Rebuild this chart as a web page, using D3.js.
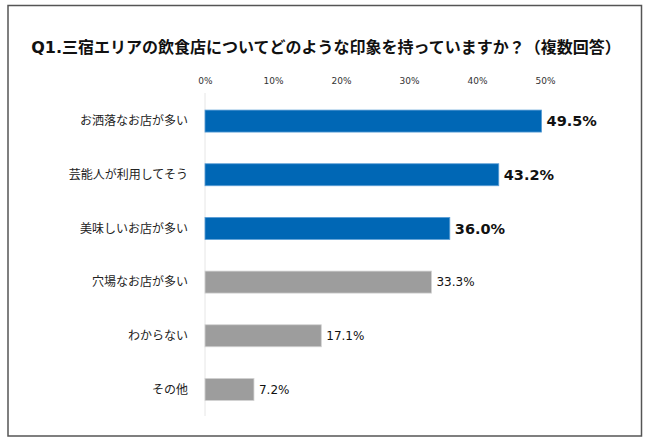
<!DOCTYPE html>
<html><head><meta charset="utf-8">
<script src="https://cdn.jsdelivr.net/npm/d3@7"></script>
<style>
html,body{margin:0;padding:0;background:#fff;}
svg{display:block;font-family:"DejaVu Sans","Noto Sans CJK JP",sans-serif;}
</style></head><body>
<svg id="c" width="650" height="443"></svg>
<script>
const title = "Q1.三宿エリアの飲食店についてどのような印象を持っていますか？（複数回答）";
const categories = ["お洒落なお店が多い","芸能人が利用してそう","美味しいお店が多い","穴場なお店が多い","わからない","その他"];
const values = [49.5, 43.2, 36.0, 33.3, 17.1, 7.2];
const highlighted = [true, true, true, false, false, false];
const tickValues = [0, 10, 20, 30, 40, 50];

const svg = d3.select("#c");
svg.append("rect").attr("x",8).attr("y",5.5).attr("width",633.5).attr("height",430.5)
  .attr("fill","#fff").attr("stroke","#555").attr("stroke-width",1.5);

svg.append("text").attr("x",326).attr("y",53).attr("text-anchor","middle")
  .attr("font-size",16).attr("font-weight","bold").attr("fill","#111").text(title);

const x = d3.scaleLinear().domain([0,50]).range([205,545]);
const y = d3.scaleBand().domain(categories).range([94.5,416]).paddingInner(0.59).paddingOuter(0.29);

const ax = svg.append("g").attr("transform","translate(0,84)")
  .call(d3.axisTop(x).tickValues(tickValues).tickFormat(d=>d+"%").tickSize(0).tickPadding(0));
ax.select(".domain").remove();
ax.selectAll("text").attr("font-size",9).attr("fill","#333").attr("font-family","\"DejaVu Sans\",\"Noto Sans CJK JP\",sans-serif");

svg.append("line").attr("x1",205).attr("x2",205).attr("y1",93).attr("y2",416)
  .attr("stroke","#e6e6e6").attr("stroke-width",1);

svg.selectAll("rect.bar").data(categories).join("rect").attr("class","bar")
  .attr("x",x(0)).attr("y",d=>y(d)).attr("height",y.bandwidth())
  .attr("width",(d,i)=>x(values[i])-x(0))
  .attr("fill",(d,i)=>highlighted[i]?"#0067b5":"#9d9d9d")
  .attr("stroke",(d,i)=>highlighted[i]?"#5d9fd6":"#d2d2d2").attr("stroke-width",0.8);

svg.selectAll("text.cat").data(categories).join("text").attr("class","cat")
  .attr("x",188).attr("y",d=>y(d)+y.bandwidth()/2).attr("dy","0.35em")
  .attr("text-anchor","end").attr("font-size",12).attr("fill","#222")
  .attr("font-family","\"Noto Sans CJK JP\",sans-serif").text(d=>d);

svg.selectAll("text.val").data(categories).join("text").attr("class","val")
  .attr("x",(d,i)=>x(values[i])+5).attr("y",d=>y(d)+y.bandwidth()/2).attr("dy","0.36em")
  .attr("font-size",(d,i)=>highlighted[i]?14.5:12)
  .attr("font-weight",(d,i)=>highlighted[i]?"bold":"normal")
  .attr("fill","#111").text((d,i)=>values[i].toFixed(1)+"%");
</script></body></html>
